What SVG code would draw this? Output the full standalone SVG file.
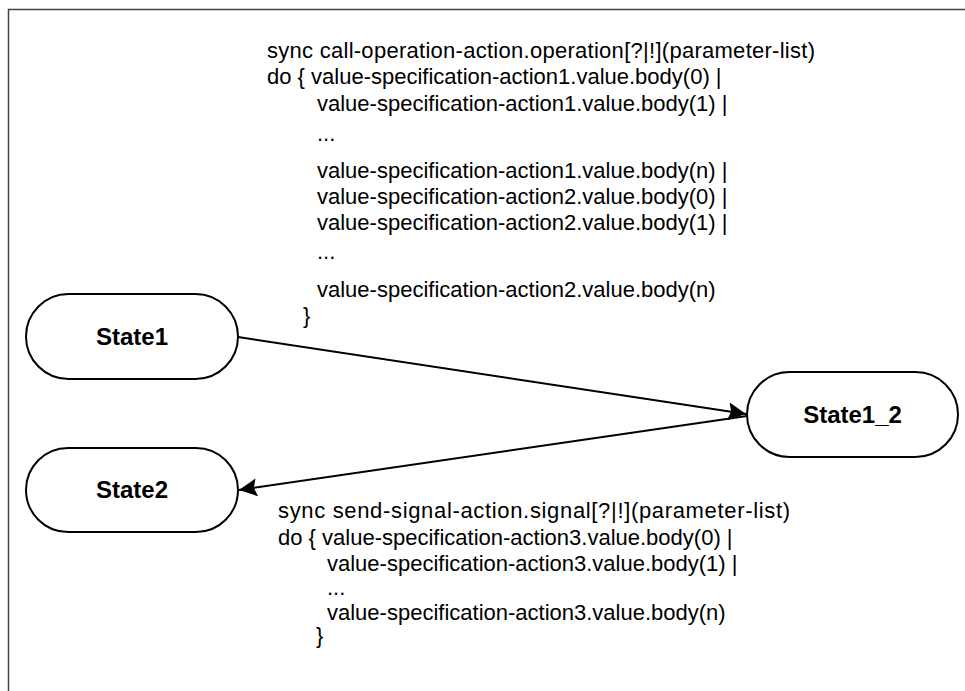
<svg xmlns="http://www.w3.org/2000/svg" width="965" height="691" viewBox="0 0 965 691">
  <style>
    .frame { fill: none; stroke: #444444; stroke-width: 1.5; }
    .state rect { fill: #ffffff; stroke: #000000; stroke-width: 2; }
    .state text { font-family: "Liberation Sans", Arial, sans-serif; font-size: 24px; font-weight: bold; fill: #000000; text-anchor: middle; }
    .edge { fill: none; stroke: #000000; stroke-width: 2; }
    .label { font-family: "Liberation Sans", Arial, sans-serif; font-size: 22px; fill: #000000; }
  </style>
  <defs>
    <marker id="arrow" markerUnits="userSpaceOnUse" markerWidth="20" markerHeight="18" viewBox="0 0 20 18" refX="18" refY="9" orient="auto">
      <path d="M18,9 L0,0 L3,9 L0,18 Z" fill="#000000"/>
    </marker>
  </defs>

  <rect width="965" height="691" fill="#ffffff"/>
  <!-- page frame, open towards right and bottom -->
  <path class="frame" d="M8.5,691 L8.5,9.5 L965,9.5"/>

  <g id="connectors">
    <line id="edge-state1-to-state1_2" class="edge" x1="238" y1="337" x2="746" y2="414" marker-end="url(#arrow)"/>
    <line id="edge-state1_2-to-state2" class="edge" x1="747" y1="416" x2="239" y2="490" marker-end="url(#arrow)"/>
  </g>

  <g id="label-call-operation" class="label">
    <text x="267" y="58" textLength="548" lengthAdjust="spacing">sync call-operation-action.operation[?|!](parameter-list)</text>
    <text x="267" y="84">do { value-specification-action1.value.body(0) |</text>
    <text x="317" y="111">value-specification-action1.value.body(1) |</text>
    <text x="317" y="141">...</text>
    <text x="317" y="178">value-specification-action1.value.body(n) |</text>
    <text x="317" y="204">value-specification-action2.value.body(0) |</text>
    <text x="317" y="230">value-specification-action2.value.body(1) |</text>
    <text x="317" y="259">...</text>
    <text x="317" y="297">value-specification-action2.value.body(n)</text>
    <text x="303" y="323">}</text>
  </g>

  <g id="label-send-signal" class="label">
    <text x="278" y="518" textLength="512" lengthAdjust="spacing">sync send-signal-action.signal[?|!](parameter-list)</text>
    <text x="278" y="545">do { value-specification-action3.value.body(0) |</text>
    <text x="327" y="571">value-specification-action3.value.body(1) |</text>
    <text x="327" y="595">...</text>
    <text x="327" y="620">value-specification-action3.value.body(n)</text>
    <text x="316" y="643">}</text>
  </g>

  <g id="State1" class="state">
    <rect x="26" y="294" width="212" height="85" rx="42.5" ry="42.5"/>
    <text x="132" y="345">State1</text>
  </g>
  <g id="State2" class="state">
    <rect x="26" y="448" width="212" height="84" rx="42" ry="42"/>
    <text x="132" y="498">State2</text>
  </g>
  <g id="State1_2" class="state">
    <rect x="747" y="372" width="211" height="85" rx="42.5" ry="42.5"/>
    <text x="852.5" y="423">State1_2</text>
  </g>
</svg>
